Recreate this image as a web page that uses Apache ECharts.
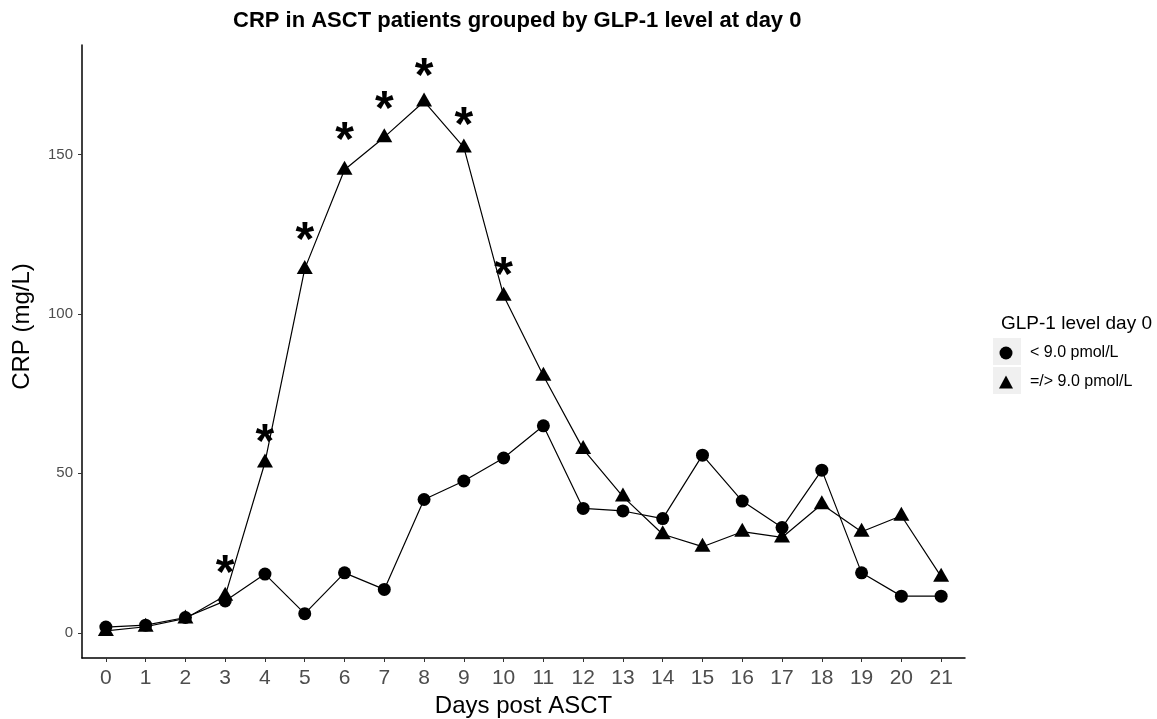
<!DOCTYPE html>
<html>
<head>
<meta charset="utf-8">
<script src="https://cdn.jsdelivr.net/npm/echarts@6.0.0/dist/echarts.min.js"></script>
<style>
html,body{margin:0;padding:0;background:#fff;}
#chart{width:1157px;height:719px;}
</style>
</head>
<body>
<div id="chart"></div>
<script>
// ---- data ----
const days = [0,1,2,3,4,5,6,7,8,9,10,11,12,13,14,15,16,17,18,19,20,21];
const lowGLP = [1.8,2.4,4.8,10.0,18.4,6.0,18.8,13.6,41.8,47.6,54.8,64.9,39.0,38.2,35.8,55.7,41.3,33.0,51.0,18.8,11.5,11.5];
const highGLP = [0.6,1.9,4.5,11.6,53.4,114.1,145.2,155.4,166.6,152.2,105.7,80.6,57.6,42.7,30.9,27.0,31.7,29.9,40.3,31.7,36.7,17.6];
const sigDays = [3,4,5,6,7,8,9,10];
const sigY = [21.7,62.6,126.1,157.5,167.1,177.4,162.1,115.0];
const xTicks = [0,1,2,3,4,5,6,7,8,9,10,11,12,13,14,15,16,17,18,19,20,21];
const yTicks = [0,50,100,150];
const seriesNames = ['< 9.0 pmol/L', '=/> 9.0 pmol/L'];
const titleText = 'CRP in ASCT patients grouped by GLP-1 level at day 0';
const legendTitle = 'GLP-1 level day 0';
const xName = 'Days post ASCT';
const yName = 'CRP (mg/L)';

const FONT = "'Liberation Sans', Arial, sans-serif";
const chart = echarts.init(document.getElementById('chart'), null, {renderer: 'canvas'});

const option = {
  animation: false,
  backgroundColor: '#ffffff',
  title: [
    {text: titleText, left: 228, top: 5,
     textStyle: {fontFamily: FONT, fontSize: 22, fontWeight: 'bold', color: '#000'}},
    {text: legendTitle, left: 996, top: 309,
     textStyle: {fontFamily: FONT, fontSize: 19, fontWeight: 'normal', color: '#000'}}
  ],
  grid: {left: 82, right: 192, top: 45, bottom: 61, containLabel: false, outerBoundsMode: 'none'},
  legend: {
    orient: 'vertical', left: 994, top: 340, itemGap: 13,
    itemWidth: 14, itemHeight: 13, selectedMode: false,
    data: [{name: seriesNames[0], icon: 'circle'}, {name: seriesNames[1], icon: 'triangle'}],
    textStyle: {fontFamily: FONT, fontSize: 16, color: '#000', padding: [0,0,0,12]}
  },
  graphic: [
    {type: 'rect', shape: {x: 993, y: 338, width: 28, height: 27}, style: {fill: '#f0f0f0'}, z: -1},
    {type: 'rect', shape: {x: 993, y: 367, width: 28, height: 27}, style: {fill: '#f0f0f0'}, z: -1}
  ],
  xAxis: {
    type: 'value', min: -0.6, max: 21.6,
    name: xName, nameLocation: 'middle', nameGap: 36,
    nameTextStyle: {fontFamily: FONT, fontSize: 24, color: '#000'},
    axisLine: {show: true, onZero: false, lineStyle: {color: '#000', width: 1.5}},
    axisTick: {show: true, length: 4, customValues: xTicks, lineStyle: {color: '#333', width: 1}},
    axisLabel: {show: true, customValues: xTicks, margin: 10,
      fontFamily: FONT, fontSize: 21, color: '#4d4d4d'},
    splitLine: {show: false}
  },
  yAxis: {
    type: 'value', min: -7.9, max: 184.3,
    name: yName, nameLocation: 'middle', nameGap: 48, nameRotate: 90,
    nameTextStyle: {fontFamily: FONT, fontSize: 24, color: '#000', padding: [0, 0, 0, 50]},
    axisLine: {show: true, onZero: false, lineStyle: {color: '#000', width: 1.5}},
    axisTick: {show: true, length: 4, customValues: yTicks, lineStyle: {color: '#333', width: 1}},
    axisLabel: {show: true, customValues: yTicks, margin: 9,
      fontFamily: FONT, fontSize: 15, color: '#4d4d4d'},
    splitLine: {show: false}
  },
  series: [
    {
      name: seriesNames[0], type: 'line',
      data: days.map((d, i) => [d, lowGLP[i]]),
      symbol: 'circle', symbolSize: 13,
      itemStyle: {color: '#000'},
      lineStyle: {color: '#000', width: 1.2},
      z: 3
    },
    {
      name: seriesNames[1], type: 'line',
      data: days.map((d, i) => [d, highGLP[i]]),
      symbol: 'triangle', symbolSize: [16, 14], symbolOffset: [0, -2],
      itemStyle: {color: '#000'},
      lineStyle: {color: '#000', width: 1.2},
      z: 3
    },
    {
      name: 'sig', type: 'scatter',
      data: sigDays.map((d, i) => [d, sigY[i]]),
      symbolSize: 0,
      itemStyle: {color: '#000', opacity: 1},
      label: {show: true, position: 'inside', formatter: '*', offset: [0, 11],
        fontFamily: FONT, fontSize: 48, fontWeight: 'bold', color: '#000', opacity: 1,
        textBorderWidth: 0},
      z: 4
    }
  ]
};
chart.setOption(option);
</script>
</body>
</html>
